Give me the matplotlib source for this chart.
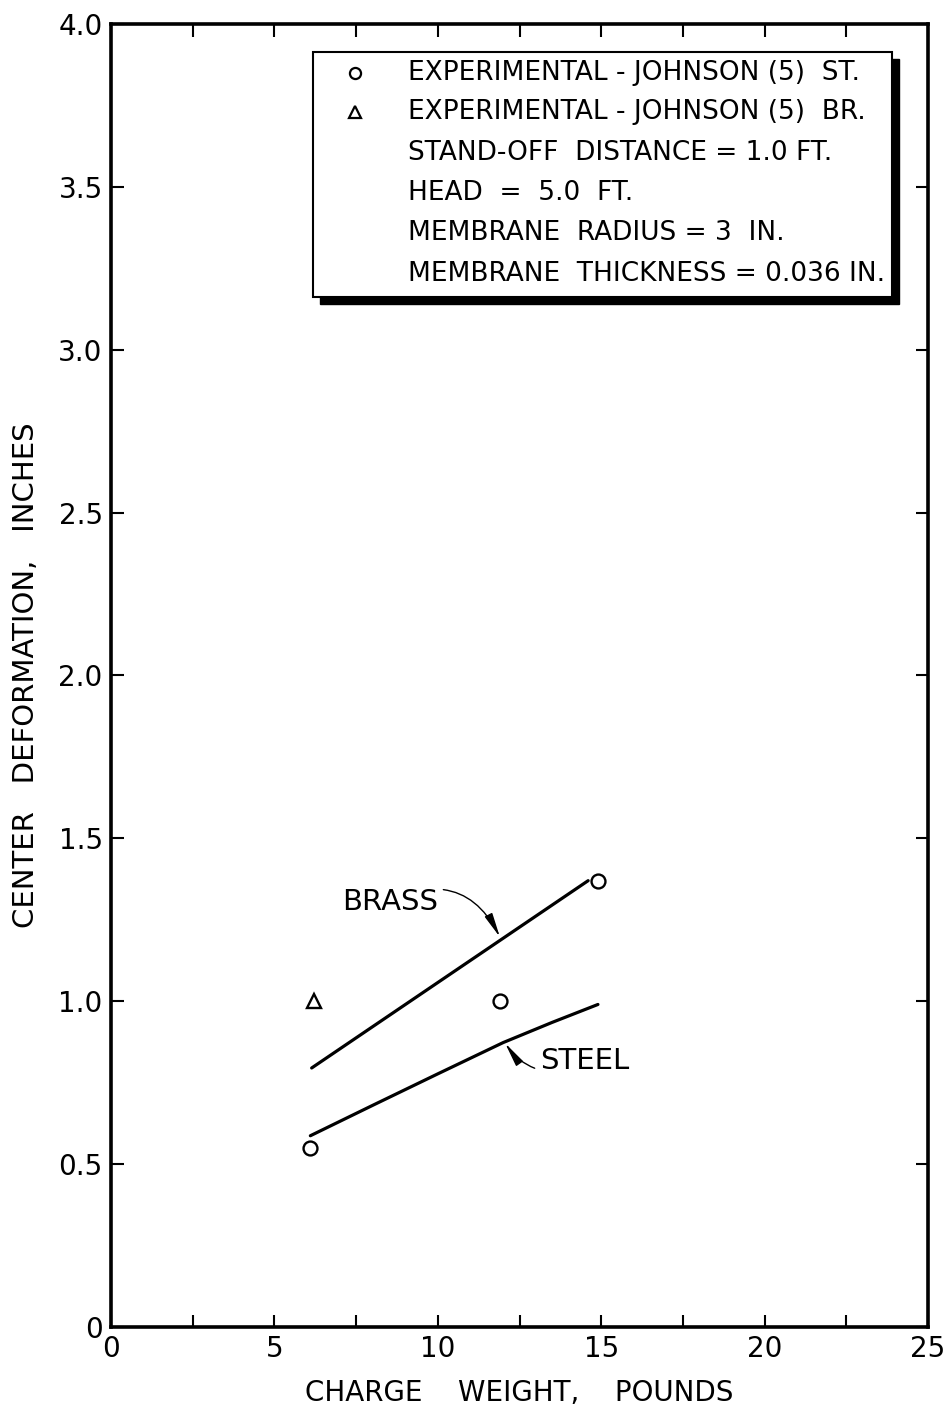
import matplotlib
matplotlib.use("Agg")
import matplotlib.pyplot as plt
from matplotlib.patches import Rectangle
from matplotlib.ticker import MultipleLocator

# Experimental center deformations (Johnson, ref. 5)
steel_exp_w = [6.1, 11.9, 14.9]
steel_exp_d = [0.55, 1.00, 1.37]
brass_exp_w = [6.2]
brass_exp_d = [1.00]

# Computed curves
brass_w = [6.14, 14.6]
brass_d = [0.795, 1.37]
steel_w = [6.1, 8.0, 10.0, 12.0, 13.5, 14.9]
steel_d = [0.587, 0.68, 0.777, 0.873, 0.935, 0.99]

x_ticks = [0, 5, 10, 15, 20, 25]
y_ticks = [0, 0.5, 1.0, 1.5, 2.0, 2.5, 3.0, 3.5, 4.0]
y_tick_labels = ["0", "0.5", "1.0", "1.5", "2.0", "2.5", "3.0", "3.5", "4.0"]

legend_lines = [
    "EXPERIMENTAL - JOHNSON (5)  ST.",
    "EXPERIMENTAL - JOHNSON (5)  BR.",
    "STAND-OFF  DISTANCE = 1.0 FT.",
    "HEAD  =  5.0  FT.",
    "MEMBRANE  RADIUS = 3  IN.",
    "MEMBRANE  THICKNESS = 0.036 IN.",
]

plt.rcParams["font.family"] = ["DejaVu Sans"]

fig = plt.figure(figsize=(9.48, 14.10), dpi=100)
ax = fig.add_axes([0.1171, 0.0589, 0.8618, 0.9241])

ax.set_xlim(0, 25)
ax.set_ylim(0, 4.0)

# Curves
ax.plot(brass_w, brass_d, color="black", lw=2.3, solid_capstyle="round")
ax.plot(steel_w, steel_d, color="black", lw=2.3, solid_capstyle="round")

# Experimental points
ax.plot(steel_exp_w, steel_exp_d, linestyle="none", marker="o", ms=10,
        mfc="white", mec="black", mew=1.7, zorder=5)
ax.plot(brass_exp_w, brass_exp_d, linestyle="none", marker="^", ms=10,
        mfc="white", mec="black", mew=1.7, zorder=5)

# Curve labels
arrow_style = "-|>,head_length=0.7,head_width=0.12"
ax.annotate("BRASS", xy=(11.9, 1.197), xytext=(10.0, 1.305),
            fontsize=21, ha="right", va="center",
            arrowprops=dict(arrowstyle=arrow_style,
                            connectionstyle="arc3,rad=-0.5", color="black",
                            lw=1.0, shrinkA=2, shrinkB=0))
ax.annotate("STEEL", xy=(12.06, 0.871), xytext=(13.13, 0.816),
            fontsize=21, ha="left", va="center",
            arrowprops=dict(arrowstyle=arrow_style,
                            connectionstyle="arc3,rad=-0.45", color="black",
                            lw=1.0, shrinkA=2, shrinkB=0))

# Axes styling
for s in ax.spines.values():
    s.set_linewidth(2.6)
ax.xaxis.set_minor_locator(MultipleLocator(2.5))
ax.set_xticks(x_ticks)
ax.set_yticks(y_ticks)
ax.set_yticklabels(y_tick_labels)
ax.tick_params(which="both", direction="in", top=True, right=True,
               length=9, width=1.5, labelsize=20, pad=6)

ax.set_xlabel("CHARGE    WEIGHT,    POUNDS", fontsize=20, labelpad=11)
ax.set_ylabel("CENTER   DEFORMATION,   INCHES", fontsize=21, labelpad=13)

# Legend box with heavy drop shadow
bx0, by0, bx1, by1 = 0.2472, 0.7905, 0.9559, 0.9785
sx, sy = 7 / 817, 7 / 1303
ax.add_patch(Rectangle((bx0 + sx, by0 - sy), bx1 - bx0, by1 - by0,
                       transform=ax.transAxes, facecolor="black",
                       edgecolor="black", zorder=6, clip_on=False))
ax.add_patch(Rectangle((bx0, by0), bx1 - bx0, by1 - by0,
                       transform=ax.transAxes, facecolor="white",
                       edgecolor="black", lw=1.5, zorder=7, clip_on=False))

row_y = [0.9624, 0.9325, 0.9010, 0.8703, 0.8396, 0.8081]
marker_x = 0.2987
text_x = 0.3635
ax.plot([marker_x], [row_y[0]], transform=ax.transAxes, marker="o", ms=8,
        mfc="white", mec="black", mew=1.6, zorder=8, clip_on=False)
ax.plot([marker_x], [row_y[1]], transform=ax.transAxes, marker="^", ms=8,
        mfc="white", mec="black", mew=1.6, zorder=8, clip_on=False)
for yy, txt in zip(row_y, legend_lines):
    ax.text(text_x, yy, txt, transform=ax.transAxes, fontsize=19,
            ha="left", va="center", zorder=8)

fig.savefig("out.png", dpi=100)
